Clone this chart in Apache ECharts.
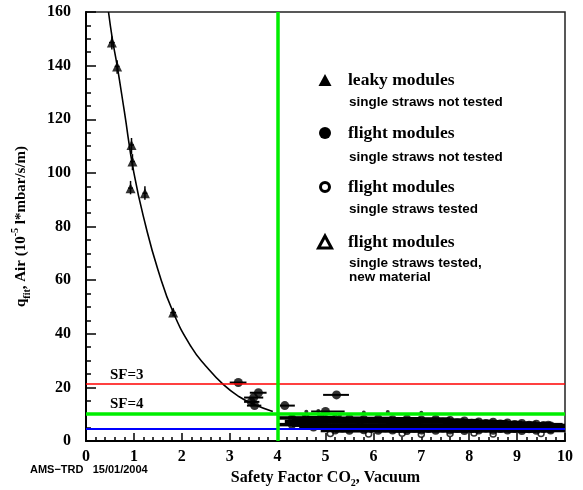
<!DOCTYPE html>
<html><head><meta charset="utf-8">
<script src="https://cdn.jsdelivr.net/npm/echarts@6/dist/echarts.min.js"></script>
<style>html,body{margin:0;padding:0;background:#fff}#c{width:583px;height:490px}</style>
</head><body><div id="c"></div>
<script>
// ---------- data ----------
const curveX = [0.47, 0.55, 0.65, 0.8, 1.0, 1.25, 1.5, 1.82, 2.2, 2.5, 2.87, 3.2, 3.5, 3.9];
const curveY = [160, 150, 140, 123, 100, 80, 64, 48, 35, 28, 21, 16.5, 13.7, 11];

// leaky modules: [x, y, xlo, xhi, ylo, yhi]
const leaky = [
  [0.54, 148.6, 0.48, 0.60, 146, 151],
  [0.65, 139.7, 0.60, 0.70, 137, 142],
  [0.95, 110.4, 0.90, 1.00, 107, 113],
  [0.97, 104.2, 0.92, 1.02, 101, 107],
  [0.93, 94.3, 0.88, 0.98, 92, 97],
  [1.23, 92.4, 1.18, 1.28, 90, 95],
  [1.82, 47.9, 1.76, 1.88, 46.5, 49.5]
];
// flight modules, single straws not tested: [x, y, xlo, xhi]
const flight = [
  [3.18, 21.8, 3.0, 3.35],
  [3.6, 18.0, 3.42, 3.77],
  [3.5, 16.2, 3.3, 3.7],
  [3.45, 14.6, 3.3, 3.62],
  [3.52, 13.2, 3.36, 3.66],
  [4.15, 13.2, 4.05, 4.36],
  [5.23, 17.2, 4.95, 5.49],
  [5.0, 11.0, 4.7, 5.4]
];
// dense band of flight modules [x, y]
const bandHalfWidth = 0.3;
const bandTop = [[4.3,8.6],[4.6,8.4],[4.9,8.7],[5.2,8.3],[5.5,8.5],[5.8,8.2],[6.1,8.4],[6.4,8.1],[6.7,8.3],[7.0,8.0],[7.3,8.2],[7.6,7.8],[7.9,7.6],[8.2,7.3],[8.5,7.2],[8.8,6.9],[9.1,6.7],[9.4,6.4],[9.65,6.1]];
const bandMidHigh = [[4.45,7.3],[4.75,7.1],[5.05,7.4],[5.35,7.2],[5.65,7.3],[5.95,7.1],[6.25,7.3],[6.55,7.0],[6.85,7.2],[7.15,7.1],[7.45,7.2],[7.75,6.9],[8.05,6.8],[8.35,6.7],[8.65,6.5],[8.95,6.3],[9.25,6.1],[9.55,6.0],[9.7,5.8]];
const bandMidLow = [[4.3,6.1],[4.6,5.9],[4.9,6.0],[5.2,5.8],[5.5,6.0],[5.8,5.7],[6.1,5.9],[6.4,5.8],[6.7,6.0],[7.0,5.7],[7.3,5.9],[7.6,5.7],[7.9,5.8],[8.2,5.6],[8.5,5.7],[8.8,5.5],[9.1,5.6],[9.4,5.4],[9.7,5.3]];
const bandLow = [[4.75,5.0],[5.05,4.8],[5.35,4.7],[5.65,4.9],[5.95,4.6],[6.25,4.8],[6.55,4.6],[6.85,4.7],[7.15,4.5],[7.45,4.7],[7.75,4.6],[8.05,4.5],[8.35,4.7],[8.65,4.5],[8.95,4.6],[9.25,4.4],[9.55,4.5],[9.7,4.4]];
const bandBottom = [[5.2,3.9],[5.5,3.8],[5.8,4.0],[6.1,3.8],[6.4,3.9],[6.7,3.7],[7.0,3.9],[7.3,3.8],[7.6,3.9],[7.9,3.7],[8.2,3.9],[8.5,3.8],[8.8,3.9],[9.1,3.7],[9.4,3.8],[9.7,3.9]];
const strays = [[4.6,10.9],[4.85,11.2],[5.8,10.6],[6.3,10.8],[7.0,10.5],[4.3,9.6],[4.55,9.5],[5.3,9.4]];
// flight modules, single straws tested (open circles)
const tested = [[5.1,2.8],[5.9,2.6],[6.6,2.9],[7.0,2.5],[7.6,2.8],[8.1,3.0],[8.5,2.6],[9.5,2.8]];
// reference lines
const sf3 = 21.2, sf4 = 10.1, blueLevel = 4.7, sfVertical = 4;

// ---------- chart ----------
const SERIF = '"Liberation Serif","DejaVu Serif",serif';
const SANS = '"Liberation Sans","DejaVu Sans",sans-serif';
const band = bandTop.concat(bandMidHigh, bandMidLow, bandLow, bandBottom);
const bandData = band.map(p => [p[0], p[1], p[0] - bandHalfWidth, p[0] + bandHalfWidth]);

function errBars(data, lw, z) {
  return {
    type: 'custom', silent: true, z: z || 3, animation: false, clip: true,
    renderItem(params, api) {
      const y = api.value(1), x = api.value(0);
      const a = api.coord([api.value(2), y]), b = api.coord([api.value(3), y]);
      const ch = [{type: 'line', shape: {x1: a[0], y1: a[1], x2: b[0], y2: b[1]}, style: {stroke: '#000', lineWidth: lw}}];
      const ylo = api.value(4), yhi = api.value(5);
      if (ylo != null && !isNaN(ylo)) {
        const c = api.coord([x, ylo]), d = api.coord([x, yhi]);
        ch.push({type: 'line', shape: {x1: c[0], y1: c[1], x2: d[0], y2: d[1]}, style: {stroke: '#000', lineWidth: lw}});
      }
      return {type: 'group', children: ch};
    },
    encode: {x: [0, 2, 3], y: [1]},
    data
  };
}

const chart = echarts.init(document.getElementById('c'));
const axisFont = {fontFamily: SERIF, fontWeight: 'bold', fontSize: 16, color: '#000'};
const nameRich = {
  m: {fontFamily: SERIF, fontWeight: 'bold', fontSize: 16, color: '#000', lineHeight: 20, verticalAlign: 'middle'},
  s: {fontFamily: SERIF, fontWeight: 'bold', fontSize: 10, color: '#000', lineHeight: 20, verticalAlign: 'bottom'},
  p: {fontFamily: SERIF, fontWeight: 'bold', fontSize: 10, color: '#000', lineHeight: 20, verticalAlign: 'top'}
};
const yRich = {
  m: {fontFamily: SERIF, fontWeight: 'bold', fontSize: 15, color: '#000', lineHeight: 22, verticalAlign: 'middle'},
  s: {fontFamily: SERIF, fontWeight: 'bold', fontSize: 10, color: '#000', lineHeight: 22, verticalAlign: 'bottom'},
  p: {fontFamily: SERIF, fontWeight: 'bold', fontSize: 10, color: '#000', lineHeight: 22, verticalAlign: 'top'}
};

const legendX = 325, textX = 348;
function lt(text, y, big) {
  return {type: 'text', z: 10, style: {text, x: textX + (big ? 0 : 1), y, fill: '#000',
    font: big ? 'bold 17.5px ' + SERIF : 'bold 13.5px ' + SANS, verticalAlign: 'middle', align: 'left'}};
}
function tri(cx, cy, filled) {
  const h = 12, w = 13;
  return {type: 'polygon', z: 10, shape: {points: [[cx, cy - h / 2], [cx + w / 2, cy + h / 2], [cx - w / 2, cy + h / 2]]},
    style: filled ? {fill: '#000'} : {fill: '#fff', stroke: '#000', lineWidth: 3}};
}

chart.setOption({
  animation: false,
  backgroundColor: '#fff',
  grid: {left: 86, right: 18, top: 12, bottom: 49, show: true, borderColor: '#222', borderWidth: 1.5,
    containLabel: false, outerBoundsMode: 'none'},
  xAxis: {
    type: 'value', min: 0, max: 10, interval: 1,
    axisLine: {show: true, onZero: false, lineStyle: {color: '#000', width: 2}},
    axisTick: {show: true, inside: true, length: 8, lineStyle: {color: '#000', width: 1.5}},
    minorTick: {show: true, splitNumber: 5, length: 4, lineStyle: {color: '#000', width: 1.5}},
    splitLine: {show: false},
    axisLabel: Object.assign({margin: 8, showMinLabel: true, showMaxLabel: true}, axisFont),
    name: '{m|Safety Factor CO}{s|2}{m|, Vacuum}',
    nameLocation: 'middle', nameGap: 27,
    nameTextStyle: {rich: nameRich}
  },
  yAxis: {
    type: 'value', min: 0, max: 160, interval: 20,
    axisLine: {show: true, onZero: false, lineStyle: {color: '#000', width: 2}},
    axisTick: {show: true, inside: true, length: 10, lineStyle: {color: '#000', width: 1.5}},
    minorTick: {show: true, splitNumber: 4, length: 5, lineStyle: {color: '#000', width: 1.5}},
    splitLine: {show: false},
    axisLabel: Object.assign({margin: 15, showMinLabel: true, showMaxLabel: true}, axisFont),
    name: '{m|q}{s|fit}{m|, Air (10}{p|-5}{m| l*mbar/s/m)}',
    nameLocation: 'middle', nameGap: 54,
    nameTextStyle: {rich: yRich}
  },
  series: [
    {
      type: 'line', name: 'fit', data: curveX.map((x, i) => [x, curveY[i]]),
      smooth: true, showSymbol: false, symbol: 'none', clip: true,
      lineStyle: {color: '#000', width: 1.6}, z: 2
    },
    errBars(leaky, 1.5, 3),
    {type: 'scatter', name: 'leaky modules', data: leaky.map(p => [p[0], p[1]]), symbol: 'triangle', symbolSize: 10,
      itemStyle: {color: '#000'}, z: 4},
    {type: 'scatter', name: 'flight tested', data: tested, symbol: 'circle', symbolSize: 6,
      itemStyle: {color: '#fff', borderColor: '#000', borderWidth: 1.5}, z: 3},
    errBars(bandData, 3.5, 4),
    {type: 'scatter', name: 'flight band', data: band, symbol: 'circle', symbolSize: 8, itemStyle: {color: '#000'}, z: 4},
    errBars(flight, 2, 3),
    {type: 'scatter', name: 'flight modules', data: flight.map(p => [p[0], p[1]]), symbol: 'circle', symbolSize: 9,
      itemStyle: {color: '#000'}, z: 4},
    {type: 'scatter', name: 'strays', data: strays, symbol: 'circle', symbolSize: 4, itemStyle: {color: '#000'}, z: 4},
    {
      type: 'line', name: 'refs', data: [], z: 6,
      markLine: {
        silent: true, symbol: 'none', animation: false,
        data: [
          {yAxis: sf3, lineStyle: {color: '#ff0000', width: 1.5, type: 'solid'},
            label: {show: true, formatter: 'SF=3', position: 'insideStartTop', distance: [24, 2],
              fontFamily: SERIF, fontWeight: 'bold', fontSize: 15, color: '#000'}},
          {yAxis: sf4, lineStyle: {color: '#00ee00', width: 3.5, type: 'solid'},
            label: {show: true, formatter: 'SF=4', position: 'insideStartTop', distance: [24, 2],
              fontFamily: SERIF, fontWeight: 'bold', fontSize: 15, color: '#000'}},
          {yAxis: blueLevel, lineStyle: {color: '#0000ff', width: 2, type: 'solid'}, label: {show: false}},
          {xAxis: sfVertical, lineStyle: {color: '#00ee00', width: 3.5, type: 'solid'}, label: {show: false}}
        ]
      }
    }
  ],
  graphic: [
    tri(legendX, 80, true), lt('leaky modules', 80, true), lt('single straws not tested', 102, false),
    {type: 'circle', z: 10, shape: {cx: legendX, cy: 133, r: 6}, style: {fill: '#000'}},
    lt('flight modules', 133, true), lt('single straws not tested', 157, false),
    {type: 'circle', z: 10, shape: {cx: legendX, cy: 187, r: 4.5}, style: {fill: '#fff', stroke: '#000', lineWidth: 3}},
    lt('flight modules', 187, true), lt('single straws tested', 209, false),
    tri(legendX, 242, false), lt('flight modules', 242, true), lt('single straws tested,', 263, false), lt('new material', 277, false),
    {type: 'text', z: 10, style: {text: 'AMS\u2212TRD   15/01/2004', x: 30, y: 470, fill: '#000',
      font: 'bold 11px ' + SANS, verticalAlign: 'middle', align: 'left'}}
  ]
});
</script></body></html>
